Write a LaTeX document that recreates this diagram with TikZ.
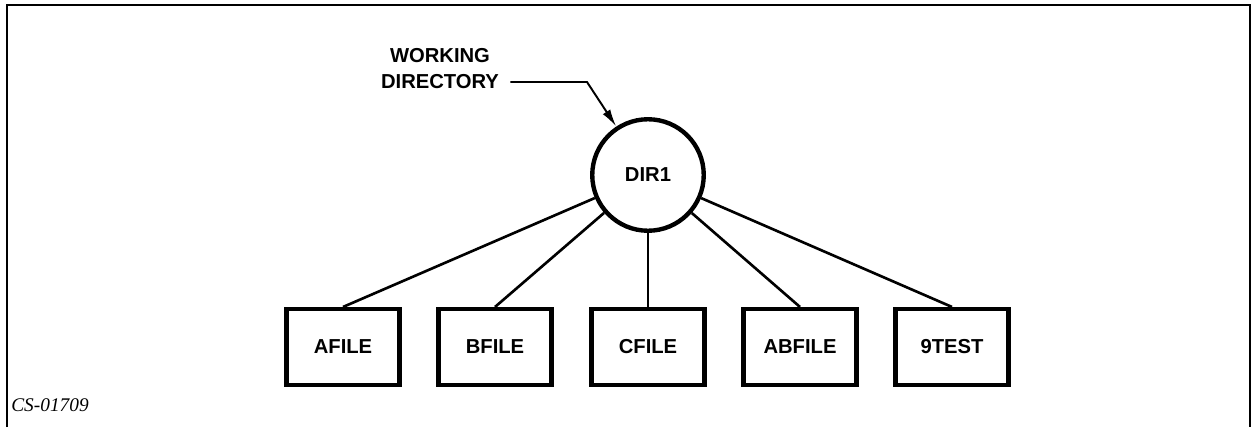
\documentclass[tikz,border=0pt]{standalone}
\usepackage{fontspec}
\setmainfont{Liberation Serif}
\newfontfamily\diagfont{Liberation Sans}
\usetikzlibrary{arrows.meta}

\begin{document}
\begin{tikzpicture}
	\tikzstyle{dirnode} = [circle, minimum size=2.23cm, inner sep=0pt, draw=black, line width=2.5pt, font=\diagfont\bfseries\fontsize{11.5}{13}\selectfont]
	\tikzstyle{filebox} = [rectangle, minimum width=2.26cm, minimum height=1.52cm, inner sep=0pt, draw=black, line width=2.3pt, font=\diagfont\bfseries\fontsize{11.5}{13}\selectfont]

	\useasboundingbox (0,0) rectangle (25.06,8.54);
	\draw[line width=1pt] (0.14,0) -- (0.14,8.44) -- (25.0,8.44) -- (25.0,0);

	\node[dirnode] (dir1) at (12.96,5.04) {DIR1};

	\foreach \name/\text/\x in {afile/AFILE/6.86, bfile/BFILE/9.9, cfile/CFILE/12.96, abfile/ABFILE/16.0, test/9TEST/19.04}
		\node[filebox] (\name) at (\x,1.6) {\text};

	\foreach \to in {afile, bfile, cfile, abfile, test}
		\draw[line width=1.5pt] (dir1) -- (\to.north);

	\node[align=center, font=\diagfont\bfseries\fontsize{11.5}{15.3}\selectfont] (wd) at (8.8,7.17) {WORKING\\DIRECTORY};
	\coordinate (bend) at (11.74,6.9);
	\draw[line width=1.1pt, -{Latex[length=10pt,width=5pt]}] ([xshift=3pt]wd.east |- bend) -- (bend) -- (dir1);

	\node[anchor=base west, inner sep=0pt, font=\itshape\fontsize{11}{13}\selectfont] (fig) at (0.22,0.32) {CS-01709};
\end{tikzpicture}
\end{document}
